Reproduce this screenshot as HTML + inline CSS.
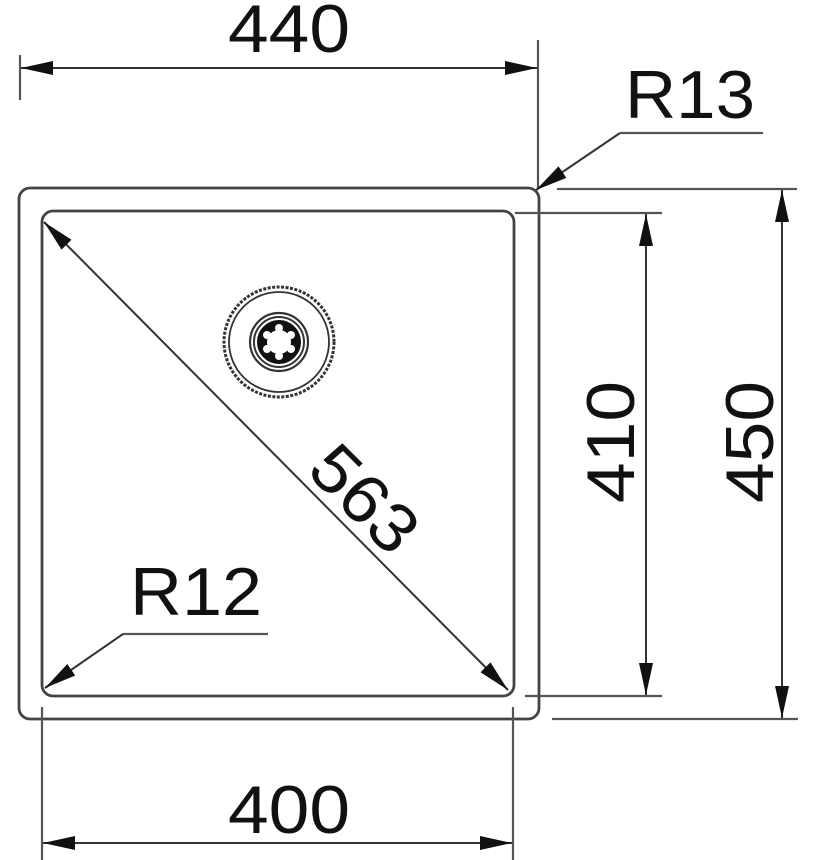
<!DOCTYPE html>
<html><head><meta charset="utf-8"><style>html,body{margin:0;padding:0;background:#fff}svg{display:block}</style></head>
<body>
<svg width="813" height="860" viewBox="0 0 813 860" xmlns="http://www.w3.org/2000/svg">
<defs>
<marker id="a" viewBox="0 0 32 14" refX="32" refY="7" markerWidth="32" markerHeight="14" markerUnits="userSpaceOnUse" orient="auto"><path d="M0,0 L32,7 L0,14 Z" fill="#111"/></marker>
<marker id="b" viewBox="0 0 32 14" refX="0" refY="7" markerWidth="32" markerHeight="14" markerUnits="userSpaceOnUse" orient="auto"><path d="M32,0 L0,7 L32,14 Z" fill="#111"/></marker>
</defs>
<g fill="none" stroke="#444" stroke-width="2.8">
<rect x="19" y="188" width="520" height="531" rx="11"/>
<rect x="42" y="211" width="472" height="485" rx="11"/>
</g>
<g stroke="#555" stroke-width="2.2" fill="none">
<line x1="20" y1="55" x2="20" y2="100"/>
<line x1="538" y1="40" x2="538" y2="188"/>
<line x1="557" y1="189" x2="797" y2="189"/>
<line x1="515" y1="213" x2="662" y2="213"/>
<line x1="525" y1="696" x2="662" y2="696"/>
<line x1="552" y1="719" x2="798" y2="719"/>
<line x1="42" y1="707" x2="42" y2="860"/>
<line x1="513" y1="707" x2="513" y2="860"/>
<line x1="620" y1="133" x2="763" y2="133"/>
<line x1="123" y1="634" x2="268" y2="634"/>
</g>
<g stroke="#333" stroke-width="2" fill="none">
<line x1="21" y1="68" x2="537" y2="68" marker-start="url(#b)" marker-end="url(#a)"/>
<line x1="43" y1="843" x2="512" y2="843" marker-start="url(#b)" marker-end="url(#a)"/>
<line x1="646" y1="214" x2="646" y2="695" marker-start="url(#b)" marker-end="url(#a)"/>
<line x1="782" y1="190" x2="782" y2="718" marker-start="url(#b)" marker-end="url(#a)"/>
<line x1="44" y1="222" x2="508" y2="690" marker-start="url(#b)" marker-end="url(#a)"/>
<line x1="620" y1="133" x2="536" y2="190" marker-end="url(#a)"/>
<line x1="123" y1="634" x2="45" y2="688" marker-end="url(#a)"/>
</g>
<g fill="none" stroke="#333">
<circle cx="279" cy="342" r="55" stroke-width="3" stroke-dasharray="3 1.5"/>
<circle cx="279" cy="342" r="50" stroke-width="1.8"/>
<circle cx="279" cy="342" r="29" stroke-width="2.2"/>
<circle cx="279" cy="342" r="25" stroke-width="2"/>
<circle cx="279" cy="342" r="17" stroke-width="10" stroke="#111"/>
</g>
<g fill="#fff">
<circle cx="279" cy="342" r="5"/>
<circle cx="279" cy="328" r="4"/><circle cx="279" cy="356" r="4"/>
<circle cx="267" cy="335" r="4"/><circle cx="291" cy="335" r="4"/>
<circle cx="267" cy="349" r="4"/><circle cx="291" cy="349" r="4"/>
</g>
<g font-family="Liberation Sans, sans-serif" font-size="68" fill="#111">
<text x="228" y="52" textLength="122" lengthAdjust="spacingAndGlyphs">440</text>
<text x="625" y="118" textLength="130" lengthAdjust="spacingAndGlyphs">R13</text>
<text x="130" y="615" textLength="132" lengthAdjust="spacingAndGlyphs">R12</text>
<text x="228" y="833" textLength="122" lengthAdjust="spacingAndGlyphs">400</text>
<text transform="translate(634,503) rotate(-90)" textLength="122" lengthAdjust="spacingAndGlyphs">410</text>
<text transform="translate(773,503) rotate(-90)" textLength="122" lengthAdjust="spacingAndGlyphs">450</text>
<text transform="translate(305,472) rotate(45)" textLength="122" lengthAdjust="spacingAndGlyphs">563</text>
</g>
</svg>
</body></html>
